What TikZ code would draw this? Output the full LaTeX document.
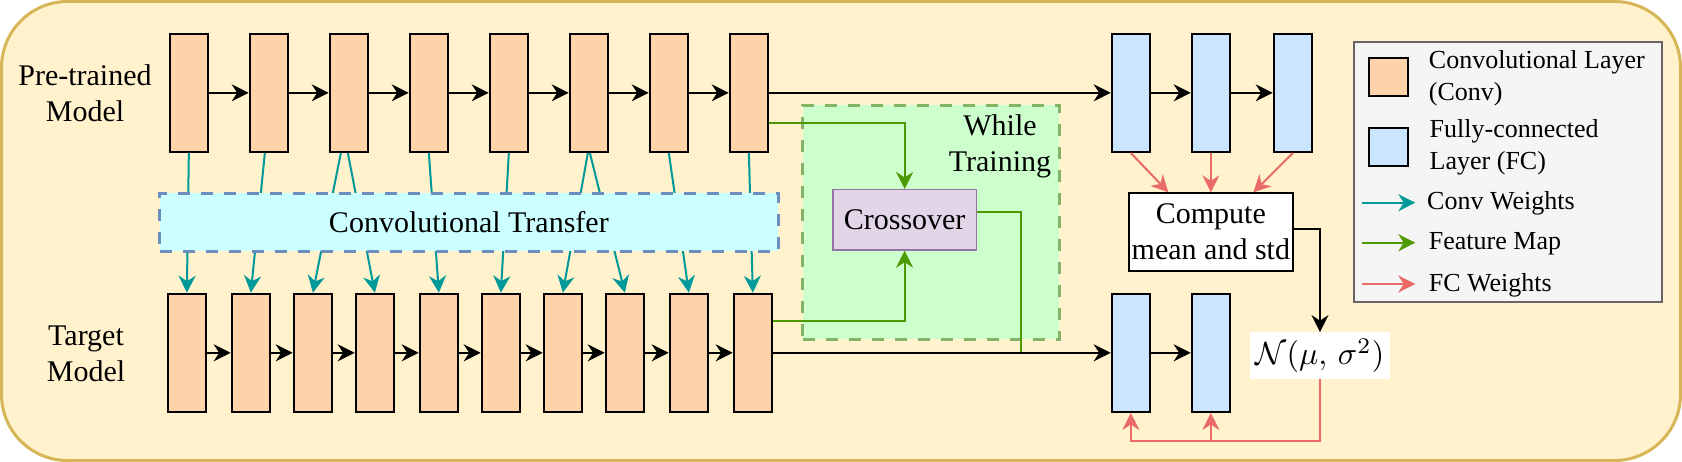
\documentclass[tikz,border=0pt]{standalone}
\usepackage{graphicx}
\usepackage{fontspec}
\setmainfont{Liberation Serif}
\usetikzlibrary{arrows.meta,calc}
\definecolor{bgfill}{HTML}{FFF2CC}
\definecolor{bgline}{HTML}{D6B656}
\definecolor{convfill}{HTML}{FFD3AA}
\definecolor{fcfill}{HTML}{CCE5FF}
\definecolor{trfill}{HTML}{CCFFFF}
\definecolor{trline}{HTML}{6C8EBF}
\definecolor{wtfill}{HTML}{CCFFCC}
\definecolor{wtline}{HTML}{82B366}
\definecolor{crfill}{HTML}{E1D5E7}
\definecolor{crline}{HTML}{9673A6}
\definecolor{lgfill}{HTML}{F5F5F5}
\definecolor{lgline}{HTML}{666666}
\definecolor{convw}{HTML}{009999}
\definecolor{featc}{HTML}{4D9900}
\definecolor{fcwc}{HTML}{EA6B66}
\tikzset{
  layer/.style={draw=black, line width=2pt, minimum width=38.3pt, minimum height=118.3pt, inner sep=0pt},
  conv/.style={layer, fill=convfill},
  fcl/.style={layer, fill=fcfill},
  tipped/.style={-{Stealth[length=17pt,width=17pt,inset=5.5pt]}},
  flow/.style={tipped, draw=black, line width=2pt},
  cw/.style={tipped, draw=convw, line width=2pt},
  fm/.style={tipped, draw=featc, line width=2pt},
  fw/.style={tipped, draw=fcwc, line width=2pt},
  region/.style={line width=3.2pt, dash pattern=on 12pt off 11pt, inner sep=0pt},
  lgtext/.style={font=\fontsize{26}{31.7}\selectfont, align=left, inner sep=0pt},
}
\begin{document}
\begin{tikzpicture}[x=1pt, y=-1pt, font=\fontsize{30}{36}\selectfont]
\useasboundingbox (0,0) rectangle (1682,462);
\draw[bgline, fill=bgfill, line width=3pt, rounded corners=66pt] (1.5,1.5) rectangle (1680.5,460.5);

% While training region
\node[region, draw=wtline, fill=wtfill, minimum width=256.7pt, minimum height=233.7pt] (wt) at (930.85,222.35) {};
\node[align=center, inner sep=0pt] (wtl) at (1000,146.4) {While\\Training};

% labels
\node[align=center, inner sep=0pt] (lp) at (85,93.3) {Pre-trained\\Model};
\node[align=center, inner sep=0pt] (lt) at (86,353.4) {Target\\Model};

% pretrained conv layers
\foreach \i in {1,...,8}
  \node[conv] (p\i) at ({188.85+80*(\i-1)},92.85) {};
% target conv layers
\foreach \i/\x in {1/186.85,2/250.85,3/312.85,4/374.85,5/438.85,6/500.85,7/562.85,8/624.85,9/688.85,10/752.85}
  \node[conv] (t\i) at (\x,352.85) {};

% FC layers
\node[fcl] (fc1) at (1130.85,92.85) {};
\node[fcl] (fc2) at (1210.85,92.85) {};
\node[fcl] (fc3) at (1292.85,92.85) {};
\node[fcl] (fc4) at (1130.85,352.85) {};
\node[fcl] (fc5) at (1210.85,352.85) {};

% flows
\foreach \i [evaluate=\i as \j using int(\i+1)] in {1,...,7}
  \draw[flow] (p\i.east) -- (p\j.west);
\foreach \i [evaluate=\i as \j using int(\i+1)] in {1,...,9}
  \draw[flow] (t\i.east) -- (t\j.west);

% conv weights
\foreach \a/\b/\d in {1/1/0,2/2/-4,3/3/-8,3/4/-1,4/5/0,5/6/0,6/7/-1,6/8/1,7/9/0,8/10/0}
  \draw[cw] ([xshift=\d pt]p\a.south) -- (t\b.north);

% convolutional transfer
\node[region, draw=trline, fill=trfill, minimum width=618.7pt, minimum height=57.7pt] (tr) at (468.85,222.35) {Convolutional Transfer};

% crossover
\node[draw=crline, fill=crfill, line width=1.5pt, minimum width=143.2pt, minimum height=60.2pt, inner sep=0pt] (cr) at (904.65,219.85) {Crossover};
\draw[fm] ([yshift=-30.15pt]p8.east) -| (cr.north);
\draw[fm] ([yshift=32.15pt]t10.east) -| (cr.south);
\coordinate (join) at (1020.7,352.85);
\draw[featc, line width=2pt] ([yshift=7.5pt]cr.east) -| (join);

\draw[flow] (p8.east) -- (fc1.west);
\draw[flow] (fc1.east) -- (fc2.west);
\draw[flow] (fc2.east) -- (fc3.west);
\draw[flow] (t10.east) -- (fc4.west);
\draw[flow] (fc4.east) -- (fc5.west);

% compute
\node[draw=black, fill=white, line width=2pt, minimum width=164.3pt, minimum height=77.4pt, inner sep=0pt, align=center] (comp) at (1210.85,232) {Compute\\mean and std};
\draw[fw] (fc1.south) -- ([xshift=-42.5pt]comp.north);
\draw[fw] (fc2.south) -- (comp.north);
\draw[fw] (fc3.south) -- ([xshift=42.5pt]comp.north);

\node[fill=white, minimum width=140pt, minimum height=47pt, inner sep=0pt] (nd) at (1320,355.8) {\fontsize{10}{12}\selectfont\scalebox{3.2}{$\mathcal{N}(\mu,\,\sigma^2)$}};
\draw[flow] ([yshift=3pt]comp.east) -| (nd.north);
\draw[fw] (nd.south) |- ([yshift=-27.7pt]fc4.south) -- (fc4.south);
\draw[fw] (nd.south) |- ([yshift=-27.7pt]fc5.south) -- (fc5.south);

% legend
\node[draw=lgline, fill=lgfill, line width=2pt, minimum width=308.3pt, minimum height=260pt, inner sep=0pt] (lg) at (1507.85,172) {};
\node[layer, fill=convfill, minimum width=38.7pt, minimum height=38.7pt] (lgc) at (1388.65,77) {};
\node[layer, fill=fcfill, minimum width=38.7pt, minimum height=38.7pt] (lgf) at (1388.65,147.15) {};
\node[lgtext, anchor=west] (lgct) at (1428.7,78) {Convolutional Layer\\(Conv)};
\node[lgtext, anchor=west] (lgft) at (1429.5,147.4) {Fully-connected\\Layer (FC)};
\coordinate (a1s) at (1362,202.7); \coordinate (a1e) at (1415.3,202.7);
\coordinate (a2s) at (1362,242.7); \coordinate (a2e) at (1415.3,242.7);
\coordinate (a3s) at (1362,284); \coordinate (a3e) at (1415.3,284);
\draw[cw] (a1s) -- (a1e);
\draw[fm] (a2s) -- (a2e);
\draw[fw] (a3s) -- (a3e);
\node[lgtext, anchor=base west] (l1) at (1427,210) {Conv Weights};
\node[lgtext, anchor=base west] (l2) at (1428.7,250) {Feature Map};
\node[lgtext, anchor=base west] (l3) at (1428.7,291.7) {FC Weights};
\end{tikzpicture}
\end{document}
